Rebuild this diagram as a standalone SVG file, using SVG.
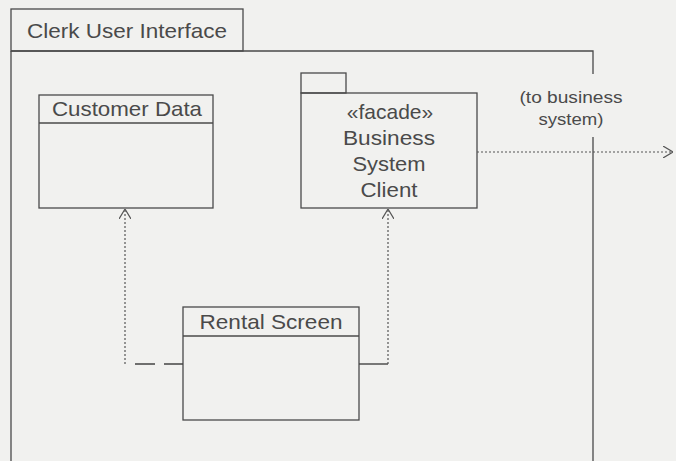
<svg xmlns="http://www.w3.org/2000/svg" width="676" height="461" viewBox="0 0 676 461">
<style>
.bg{fill:#f1f1ef}
.box{fill:none;stroke:#4a4a4a;stroke-width:1.3}
.t{font-family:"Liberation Sans",Arial,sans-serif;fill:#4a4a4a;font-size:21px}
.ts{font-family:"Liberation Sans",Arial,sans-serif;fill:#4a4a4a;font-size:16px}
.dep{fill:none;stroke:#555;stroke-width:1.2;stroke-dasharray:2 2}
.dash{fill:none;stroke:#444;stroke-width:1.5}
.solid{fill:none;stroke:#444;stroke-width:1.4}
</style>
<defs>
<marker id="open" viewBox="0 0 10 12" refX="10" refY="6" markerWidth="10" markerHeight="12" markerUnits="userSpaceOnUse" orient="auto">
<path d="M0,0 L10,6 L0,12" fill="none" stroke="#555" stroke-width="1.2"/>
</marker>
</defs>
<rect class="bg" x="0" y="0" width="676" height="461"/>
<g id="clerk-user-interface">
<rect class="box" x="11" y="9" width="232" height="42"/>
<path class="box" d="M11,51 V461 M11,51 H593 V74 M593,137 V461"/>
<text class="t" x="27" y="38" textLength="200" lengthAdjust="spacingAndGlyphs">Clerk User Interface</text>
<text class="ts" x="571" y="103" text-anchor="middle" textLength="103" lengthAdjust="spacingAndGlyphs">(to business</text>
<text class="ts" x="571" y="125" text-anchor="middle" textLength="65" lengthAdjust="spacingAndGlyphs">system)</text>
</g>
<g id="customer-data">
<rect class="box" x="39" y="95" width="174" height="113"/>
<line class="box" x1="39" y1="123" x2="213" y2="123"/>
<text class="t" x="127" y="116" text-anchor="middle" textLength="150" lengthAdjust="spacingAndGlyphs">Customer Data</text>
</g>
<g id="business-system-client">
<rect class="box" x="301" y="73" width="45" height="20"/>
<rect class="box" x="301" y="93" width="176" height="115"/>
<text class="t" x="390" y="119" text-anchor="middle">«facade»</text>
<text class="t" x="389" y="145" text-anchor="middle" textLength="92" lengthAdjust="spacingAndGlyphs">Business</text>
<text class="t" x="389" y="171" text-anchor="middle" textLength="73" lengthAdjust="spacingAndGlyphs">System</text>
<text class="t" x="389" y="197" text-anchor="middle" textLength="57" lengthAdjust="spacingAndGlyphs">Client</text>
</g>
<g id="rental-screen">
<rect class="box" x="183" y="307" width="176" height="113"/>
<line class="box" x1="183" y1="336" x2="359" y2="336"/>
<text class="t" x="271" y="329" text-anchor="middle" textLength="143" lengthAdjust="spacingAndGlyphs">Rental Screen</text>
</g>
<g id="connectors">
<path class="dash" d="M135,364 H155 M164,364 H183"/>
<polyline class="dep" points="125,364 125,209" marker-end="url(#open)"/>
<line class="solid" x1="359" y1="364" x2="388" y2="364"/>
<polyline class="dep" points="388,364 388,209" marker-end="url(#open)"/>
<polyline class="dep" points="477,152 673,152" marker-end="url(#open)"/>
</g>
</svg>
